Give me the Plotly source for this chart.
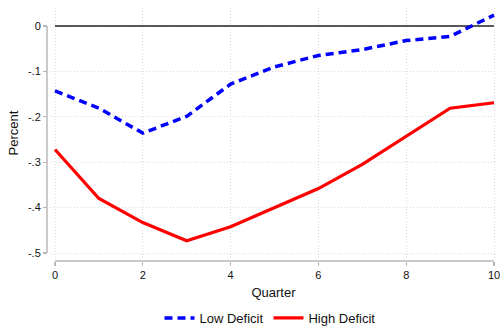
import plotly.graph_objects as go

quarters = [0, 1, 2, 3, 4, 5, 6, 7, 8, 9, 10]
low_deficit = [-0.143, -0.181, -0.236, -0.199, -0.128, -0.090, -0.065, -0.052, -0.032, -0.023, 0.024]
high_deficit = [-0.272, -0.380, -0.433, -0.473, -0.442, -0.400, -0.358, -0.305, -0.243, -0.181, -0.169]
y_tickvals = [0, -0.1, -0.2, -0.3, -0.4, -0.5]
y_ticktext = ["0", "-.1", "-.2", "-.3", "-.4", "-.5"]
x_tickvals = [0, 2, 4, 6, 8, 10]

W, H = 500, 326
ml, mr, mt, mb = 40, 3, 8, 60
pw, ph = W - ml - mr, H - mt - mb

def px_x(p):
    return (p - ml) / pw

def px_y(p):
    return (H - mb - p) / ph

font = "Liberation Sans, Arial, Helvetica, sans-serif"
axis_gray = "#b8b8b8"

fig = go.Figure()
fig.add_trace(go.Scatter(x=[quarters[0], quarters[-1]], y=[0, 0], mode="lines",
                         line=dict(color="#222222", width=1.3), showlegend=False, hoverinfo="skip"))
fig.add_trace(go.Scatter(x=quarters, y=low_deficit, mode="lines", name="Low Deficit",
                         line=dict(color="#0000ff", width=3.5, dash="8px,5px")))
fig.add_trace(go.Scatter(x=quarters, y=high_deficit, mode="lines", name="High Deficit",
                         line=dict(color="#ff0000", width=3.2)))

x_dom0 = px_x(50)
y_dom0 = px_y(258)
fig.update_layout(
    width=W, height=H,
    margin=dict(l=ml, r=mr, t=mt, b=mb, autoexpand=False),
    paper_bgcolor="white", plot_bgcolor="white",
    font=dict(family=font, size=11, color="#111111"),
    xaxis=dict(domain=[x_dom0, 1], range=[-5 / 43.9, 10 + 3 / 43.9],
               anchor="free", position=px_y(261), automargin=False,
               tickvals=x_tickvals, ticks="outside", ticklen=4, tickcolor=axis_gray, tickwidth=1.2,
               ticklabeloverflow="allow",
               showline=False, zeroline=False,
               showgrid=True, gridcolor="#dcdcdc", griddash="1px,2px", gridwidth=1,
               tickfont=dict(size=11),
               title=dict(text="Quarter", font=dict(size=13), standoff=7)),
    yaxis=dict(domain=[y_dom0, 1], range=[-0.5 - 5 / 454, 18 / 454],
               anchor="free", position=px_x(47), automargin=False,
               tickvals=y_tickvals, ticktext=y_ticktext, ticks="outside", ticklen=4,
               tickcolor=axis_gray, tickwidth=1.2,
               showline=False, zeroline=False,
               showgrid=True, gridcolor="#dcdcdc", griddash="1px,2px", gridwidth=1,
               tickfont=dict(size=11),
               title=dict(text="Percent", font=dict(size=13), standoff=5)),
    legend=dict(orientation="h", x=0.54, xanchor="center", xref="container",
                y=(H - 318) / H, yanchor="middle", yref="container",
                font=dict(size=13), itemwidth=30, bgcolor="rgba(0,0,0,0)"),
    shapes=[
        dict(type="line", xref="paper", yref="y", x0=px_x(47), x1=px_x(47), y0=0, y1=-0.5,
             line=dict(color=axis_gray, width=1.5)),
        dict(type="line", xref="x", yref="paper", x0=0, x1=10, y0=px_y(261), y1=px_y(261),
             line=dict(color=axis_gray, width=1.5)),
    ],
)

fig.write_html("out.html", config={"displayModeBar": False, "staticPlot": True},
               post_script="document.body.style.margin='0';document.body.style.overflow='hidden';")
